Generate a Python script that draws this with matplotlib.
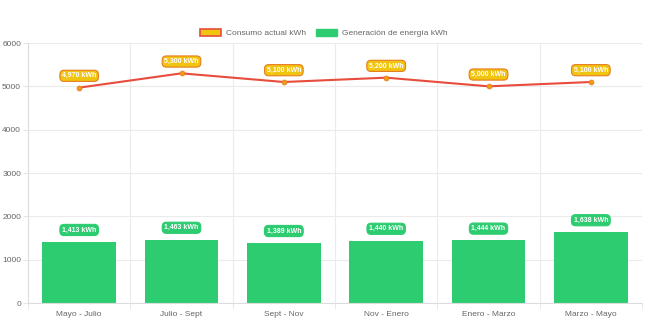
import matplotlib.pyplot as plt
import numpy as np
from matplotlib.patches import Patch

periodos = ['Mayo - Julio', 'Julio - Sept', 'Sept - Nov', 'Nov - Enero', 'Enero - Marzo', 'Marzo - Mayo']
consumo = [4970, 5300, 5100, 5200, 5000, 5100]
generacion = [1413, 1463, 1389, 1440, 1444, 1638]
y_ticks = [0, 1000, 2000, 3000, 4000, 5000, 6000]

plt.rcParams['font.family'] = ['Liberation Sans', 'DejaVu Sans']

fig = plt.figure(figsize=(6.47, 3.23), dpi=100)
ax = fig.add_axes([28 / 647, 20 / 323, 614 / 647, 260 / 323])

x = np.arange(len(periodos))
ax.bar(x, generacion, width=0.72, color='#2ecc71', zorder=2)
ax.plot(x, consumo, color='#e74c3c', linewidth=1.5, zorder=3)
ax.scatter(x, consumo, s=12, color='#f39c12', edgecolor='#e67e22', linewidth=0.6, zorder=4)

# etiquetas de valor sobre cada punto y cada barra
for xi, v in zip(x, consumo):
    ax.annotate(f'{v:,} kWh', (xi, v), xytext=(0, 8.5), textcoords='offset points',
                ha='center', va='center', fontsize=5, color='white', fontweight='bold',
                bbox=dict(boxstyle='round,pad=0.3,rounding_size=0.6', fc='#f1c40f',
                          ec='#e67e22', lw=0.8), zorder=5)
for xi, v in zip(x, generacion):
    ax.annotate(f'{v:,} kWh', (xi, v), xytext=(0, 8.5), textcoords='offset points',
                ha='center', va='center', fontsize=5, color='white', fontweight='bold',
                bbox=dict(boxstyle='round,pad=0.3,rounding_size=0.6', fc='#2ecc71',
                          ec='#2ecc71', lw=0.8), zorder=5)

ax.set_xlim(-0.5, len(periodos) - 0.5)
ax.set_ylim(0, 6000)
ax.set_yticks(y_ticks)
ax.set_xticks(x)
ax.set_xticklabels(periodos)
ax.set_xticks(np.arange(len(periodos) + 1) - 0.5, minor=True)
ax.tick_params(axis='both', which='major', labelsize=6, colors='#666666', length=0, pad=6)
ax.tick_params(axis='x', which='minor', length=4, color='#e5e5e5')
ax.tick_params(axis='y', length=3.5, color='#e5e5e5', pad=1.5)
ax.grid(axis='y', color='#ebebeb', linewidth=0.8, zorder=0)
ax.grid(axis='x', which='minor', color='#ebebeb', linewidth=0.8, zorder=0)
for side in ['top', 'right']:
    ax.spines[side].set_visible(False)
for side in ['left', 'bottom']:
    ax.spines[side].set_color('#dddddd')
    ax.spines[side].set_linewidth(0.8)

handles = [Patch(facecolor='#f1c40f', edgecolor='#e74c3c', linewidth=1.2, label='Consumo actual kWh'),
           Patch(facecolor='#2ecc71', edgecolor='#2ecc71', label='Generación de energía kWh')]
fig.legend(handles=handles, loc='center', bbox_to_anchor=(0.5, 1 - 33 / 323), ncol=2,
           frameon=False, fontsize=6, handlelength=2.6, handleheight=0.9,
           columnspacing=1.2, handletextpad=0.5, labelcolor='#666666')

fig.savefig('out.png', dpi=100)
